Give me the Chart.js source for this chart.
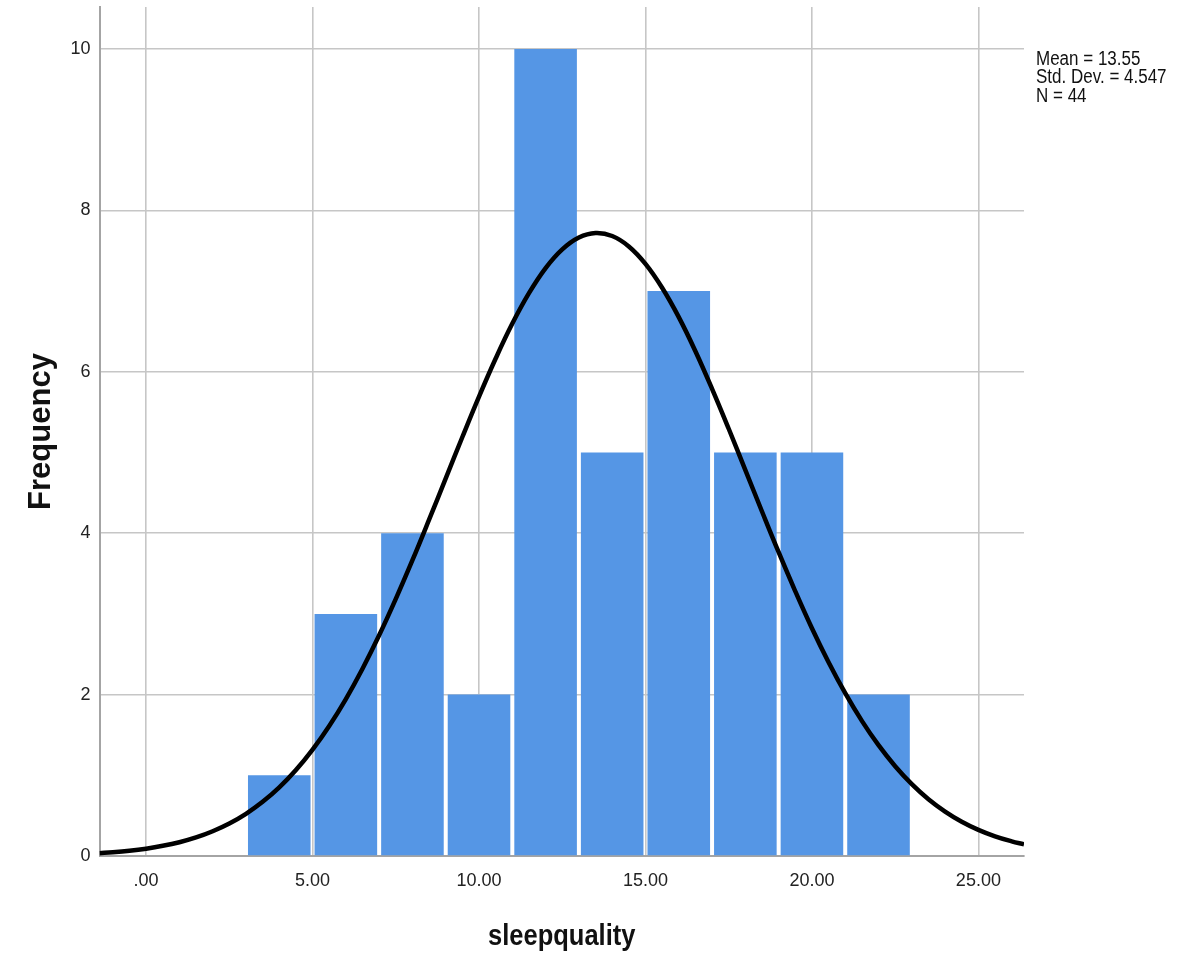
<!DOCTYPE html>
<html>
<head>
<meta charset="utf-8">
<script src="https://cdn.jsdelivr.net/npm/chart.js@4"></script>
<style>
html,body{margin:0;padding:0;background:#fff;}
#wrap{width:1181px;height:955px;position:relative;}
</style>
</head>
<body>
<div id="wrap"><canvas id="c" width="1181" height="955"></canvas></div>
<script>
// ---- data ----
const binCenters = [4, 6, 8, 10, 12, 14, 16, 18, 20, 22];
const frequencies = [1, 3, 4, 2, 10, 5, 7, 5, 5, 2];
const curveX = [-1.4, -1, -0.5, 0, 0.5, 1, 1.5, 2, 2.5, 3, 3.5, 4, 4.5, 5, 5.5, 6, 6.5, 7, 7.5, 8, 8.5, 9, 9.5, 10, 10.5, 11, 11.5, 12, 12.5, 13, 13.5, 14, 14.5, 15, 15.5, 16, 16.5, 17, 17.5, 18, 18.5, 19, 19.5, 20, 20.5, 21, 21.5, 22, 22.5, 23, 23.5, 24, 24.5, 25, 25.5, 26, 26.37];
const curveY = [0.035, 0.046, 0.065, 0.091, 0.126, 0.171, 0.230, 0.307, 0.403, 0.523, 0.671, 0.850, 1.065, 1.318, 1.611, 1.945, 2.321, 2.735, 3.186, 3.665, 4.167, 4.679, 5.192, 5.692, 6.164, 6.597, 6.974, 7.285, 7.517, 7.664, 7.720, 7.682, 7.553, 7.337, 7.041, 6.677, 6.255, 5.789, 5.294, 4.782, 4.269, 3.764, 3.280, 2.822, 2.401, 2.017, 1.674, 1.373, 1.113, 0.891, 0.704, 0.551, 0.425, 0.324, 0.244, 0.182, 0.145];
const xTickValues = [0, 5, 10, 15, 20, 25];
const xTickLabels = ['.00', '5.00', '10.00', '15.00', '20.00', '25.00'];
const yTickValues = [0, 2, 4, 6, 8, 10];
const statsLines = ['Mean = 13.55', 'Std. Dev. = 4.547', 'N = 44'];
const xTitle = 'sleepquality';
const yTitle = 'Frequency';

const FONT = "'Liberation Sans', Arial, sans-serif";

const statsPlugin = {
  id: 'stats',
  afterDraw(chart) {
    const ctx = chart.ctx;
    const x0 = chart.chartArea.right + 12;
    ctx.save();
    ctx.translate(x0, 0);
    ctx.scale(0.85, 1);
    ctx.font = "20px " + FONT;
    ctx.fillStyle = '#111';
    ctx.textAlign = 'left';
    ctx.textBaseline = 'alphabetic';
    statsLines.forEach((t, i) => ctx.fillText(t, 0, 65 + i * 18.4));
    ctx.restore();
  }
};

// compress the x-axis title horizontally (narrow look of the original)
function narrowTitle(s) {
  if (s._narrowed) return;
  s._narrowed = true;
  const orig = s.drawTitle.bind(s);
  s.drawTitle = function () {
    const ctx = s.ctx;
    const cx = (s.left + s.right) / 2;
    ctx.save();
    ctx.translate(cx, 0);
    ctx.scale(0.85, 1);
    ctx.translate(-cx, 0);
    orig();
    ctx.restore();
  };
}

new Chart(document.getElementById('c'), {
  type: 'bar',
  data: {
    datasets: [
      {
        type: 'line',
        data: curveX.map((x, i) => ({x: x, y: curveY[i]})),
        borderColor: '#000000',
        borderWidth: 4.5,
        pointRadius: 0,
        fill: false,
        tension: 0.4,
        order: 0
      },
      {
        type: 'bar',
        data: binCenters.map((x, i) => ({x: x, y: frequencies[i]})),
        backgroundColor: '#5596E5',
        borderWidth: 0,
        barPercentage: 0.94,
        categoryPercentage: 1.0,
        grouped: false,
        order: 1
      }
    ]
  },
  options: {
    responsive: false,
    animation: false,
    devicePixelRatio: 1,
    layout: {padding: {top: 7, right: 157, left: 0, bottom: 0}},
    plugins: {legend: {display: false}, tooltip: {enabled: false}},
    scales: {
      x: {
        type: 'linear',
        min: -1.4,
        max: 26.37,
        offset: false,
        afterBuildTicks: s => { s.ticks = xTickValues.map(v => ({value: v})); },
        afterFit: s => { s.height = 99; s.paddingLeft = 0; s.paddingRight = 0; },
        afterUpdate: narrowTitle,
        ticks: {
          callback: (v, i) => xTickLabels[i],
          font: {family: FONT, size: 18},
          color: '#222',
          padding: 14,
          maxRotation: 0,
          autoSkip: false
        },
        grid: {color: '#c6c6c6', lineWidth: 1.6, drawTicks: false, offset: false},
        border: {display: true, color: '#a4a4a4', width: 2},
        title: {display: true, text: xTitle, font: {family: FONT, size: 30, weight: 'bold'}, color: '#111', padding: {top: 0, bottom: 0}}
      },
      y: {
        min: 0,
        max: 10.52,
        afterBuildTicks: s => { s.ticks = yTickValues.map(v => ({value: v})); },
        afterFit: s => { s.width = 99.5; s.paddingTop = 0; s.paddingBottom = 0; },
        ticks: {
          font: {family: FONT, size: 18},
          color: '#222',
          padding: 9
        },
        grid: {color: '#c6c6c6', lineWidth: 1.6, drawTicks: false},
        border: {display: true, color: '#a4a4a4', width: 2},
        title: {display: true, text: yTitle, font: {family: FONT, size: 31, weight: 'bold'}, color: '#111', padding: {top: 23, bottom: 0}}
      }
    }
  },
  plugins: [statsPlugin]
});
</script>
</body>
</html>
